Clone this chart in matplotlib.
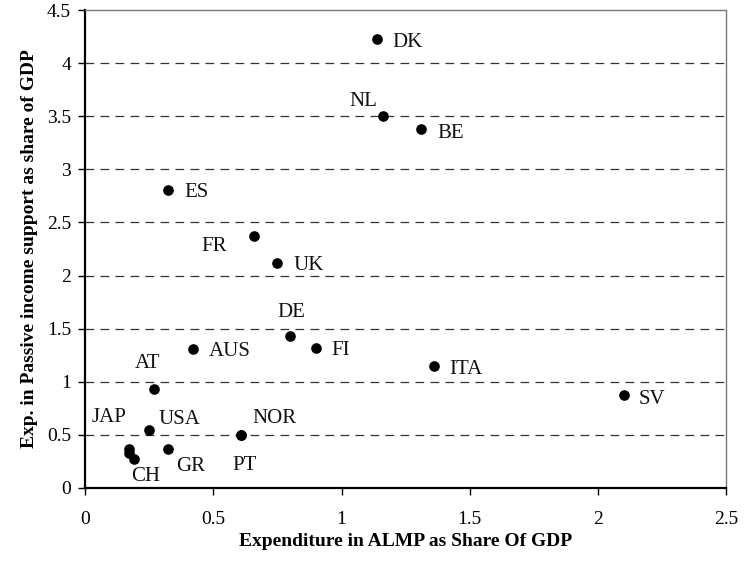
import matplotlib.pyplot as plt

# data
countries = ['DK', 'NL', 'BE', 'ES', 'FR', 'UK', 'DE', 'AUS', 'FI', 'ITA',
             'SV', 'AT', 'JAP', 'USA', 'NOR', 'PT', 'GR', 'CH', '']
almp = [1.14, 1.16, 1.31, 0.325, 0.66, 0.75, 0.80, 0.42, 0.90, 1.36,
        2.10, 0.27, 0.17, 0.25, 0.61, 0.61, 0.325, 0.19, 0.17]
passive = [4.23, 3.50, 3.38, 2.81, 2.37, 2.12, 1.43, 1.31, 1.32, 1.15,
           0.87, 0.93, 0.37, 0.54, 0.50, 0.50, 0.37, 0.27, 0.33]

# label offsets (pixels) and alignment
offsets = {'DK': (15, -4, 'left'), 'NL': (-5, 15, 'right'), 'BE': (16, -4, 'left'),
           'ES': (16, -3, 'left'), 'FR': (-27, -10, 'right'), 'UK': (16, -3, 'left'),
           'DE': (1, 24, 'center'), 'AUS': (16, -3, 'left'), 'FI': (16, -3, 'left'),
           'ITA': (15, -4, 'left'), 'SV': (15, -4, 'left'), 'AT': (-7, 26, 'center'),
           'JAP': (-2, 31, 'right'), 'USA': (9, 11, 'left'), 'NOR': (11, 16, 'left'),
           'PT': (3, -31, 'center'), 'GR': (8, -18, 'left'), 'CH': (-3, -17, 'left'),
           '': (0, 0, 'left')}

plt.rcParams['font.family'] = ['Liberation Serif', 'DejaVu Serif']

fig = plt.figure(figsize=(7.45, 5.62), dpi=100)
ax = fig.add_axes([0.114, 0.132, 0.861, 0.850])

ax.scatter(almp, passive, s=44, color='black', zorder=3)

for name, x, y in zip(countries, almp, passive):
    if not name:
        continue
    dx, dy, ha = offsets[name]
    ax.annotate(name, (x, y), xytext=(dx, dy), textcoords='offset pixels',
                ha=ha, va='center', fontsize=15, color='#111111')

ax.set_xlim(0, 2.5)
ax.set_ylim(0, 4.5)
ax.set_xticks([0, 0.5, 1, 1.5, 2, 2.5])
ax.set_xticklabels(['0', '0.5', '1', '1.5', '2', '2.5'])
ax.set_yticks([0, 0.5, 1, 1.5, 2, 2.5, 3, 3.5, 4, 4.5])
ax.set_yticklabels(['0', '0.5', '1', '1.5', '2', '2.5', '3', '3.5', '4', '4.5'])
ax.tick_params(labelsize=14, direction='out', length=5, width=1, colors='black')
ax.tick_params(axis='x', pad=12)
ax.tick_params(axis='y', pad=5)

for v in [0.5, 1, 1.5, 2, 2.5, 3, 3.5, 4]:
    ax.axhline(v, color='#333333', lw=0.9, dashes=(7, 5), zorder=1)

for s in ['left', 'bottom']:
    ax.spines[s].set_linewidth(1.6)
    ax.spines[s].set_color('black')
for s in ['top', 'right']:
    ax.spines[s].set_linewidth(1.0)
    ax.spines[s].set_color('#777777')

ax.set_xlabel('Expenditure in ALMP as Share Of GDP', fontsize=14, fontweight='bold', labelpad=3)
ax.set_ylabel('Exp. in Passive income support as share of GDP', fontsize=14,
              fontweight='bold', labelpad=6)

fig.savefig('out.png', dpi=100)
